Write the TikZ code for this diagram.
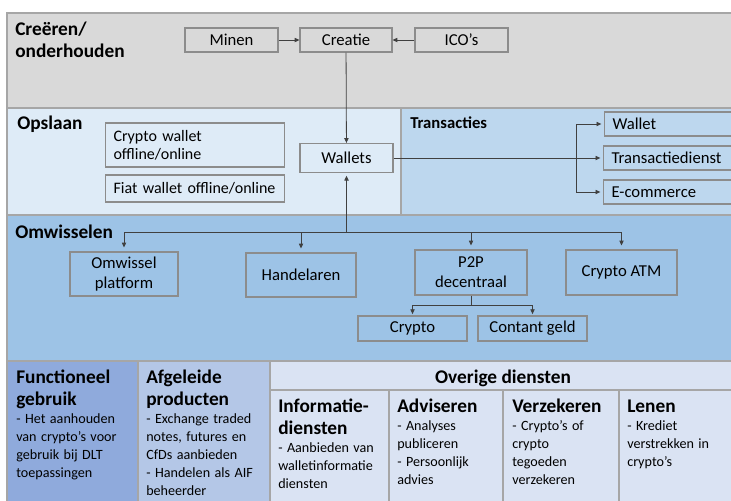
\documentclass[tikz,border=0pt]{standalone}
\usepackage{fontspec}
\setmainfont{Carlito}
\usepackage{tikz}
\usetikzlibrary{arrows.meta}

\definecolor{bandgray}{HTML}{D9D9D9}
\definecolor{opslaanblue}{HTML}{DEEBF7}
\definecolor{transblue}{HTML}{BDD7EE}
\definecolor{omwblue}{HTML}{9DC3E6}
\definecolor{funcblue}{HTML}{8FAADC}
\definecolor{afgblue}{HTML}{B4C7E7}
\definecolor{overblue}{HTML}{DAE3F3}
\definecolor{edgegray}{HTML}{A6A6A6}
\definecolor{boxgray}{HTML}{8C8C8C}
\definecolor{linegray}{HTML}{404040}

\newcommand{\hdfont}{\fontsize{14.5}{16.5}\selectfont\bfseries}
\newcommand{\ttlfont}{\fontsize{14.5}{17}\selectfont\bfseries}
\newcommand{\bdfont}{\fontsize{10.6}{13.5}\selectfont}

\tikzset{
    band/.style={draw=edgegray, line width=1.1pt},
    box/.style={draw=boxgray, line width=0.8pt, inner sep=0pt, align=center, font=\fontsize{12.5}{15}\selectfont},
    leftbox/.style={box, anchor=west, inner xsep=6pt, text width=#1, align=left},
    conn/.style={draw=linegray, line width=0.6pt},
    arr/.style={conn, -{Triangle[length=3.6pt,width=3.2pt]}},
    hd/.style={anchor=base west, inner sep=0pt, align=left, font=\hdfont},
    cell/.style={anchor=base west, inner sep=0pt, text width=#1, align=left},
}

\begin{document}
\begin{tikzpicture}[x=0.75pt,y=0.75pt,yscale=-1,xscale=1]
        \useasboundingbox (0,0) rectangle (731,500);
        \clip (0,0) rectangle (731,500);
        %Shape: Rectangle bands
        \draw[band, fill=bandgray] (7,13) rectangle (745,108);
        \draw[band, fill=opslaanblue] (7,108) rectangle (401,215);
        \draw[band, fill=transblue] (401,108) rectangle (745,215);
        \draw[band, fill=omwblue] (7,215) rectangle (745,361);
        \draw[band, fill=funcblue] (7,361) rectangle (138,510);
        \draw[band, fill=afgblue] (138,361) rectangle (270,510);
        \draw[band, fill=overblue] (270,361) rectangle (745,390);
        \foreach \xa/\xb in {270/389,389/503,503/619,619/745}
            \draw[band, fill=overblue] (\xa,390) rectangle (\xb,510);

        % Text Node band titles
        \node[hd] (tcreeren) at (15,57) {Creëren/\\onderhouden};
        \node[hd] (topslaan) at (17,129) {Opslaan};
        \node[hd, font=\fontsize{12.5}{15}\selectfont\bfseries] (ttrans) at (410,128) {Transacties};
        \node[hd] (tomw) at (15,238) {Omwisselen};

        %Shape: Rectangle creatie row
        \node[box, minimum width=93*0.75pt, minimum height=24*0.75pt] (minen) at (231.5,40) {Minen};
        \node[box, minimum width=92*0.75pt, minimum height=24*0.75pt] (creatie) at (346,40) {Creatie};
        \node[box, minimum width=93*0.75pt, minimum height=24*0.75pt] (icos) at (461.5,40) {ICO’s};

        %Shape: Rectangle opslaan
        \node[leftbox=122pt, minimum height=44*0.75pt, font=\fontsize{12}{13.5}\selectfont] (cwallet) at (105,145) {Crypto wallet\\offline/online};
        \node[leftbox=122pt, minimum height=27*0.75pt, font=\fontsize{12}{13.5}\selectfont] (fwallet) at (105,188.5) {Fiat wallet offline/online};
        \node[box, minimum width=93*0.75pt, minimum height=29*0.75pt] (wallets) at (346.5,158) {Wallets};

        %Shape: Rectangle transacties
        \node[leftbox=100pt, minimum height=24*0.75pt] (trwallet) at (604,124) {Wallet};
        \node[leftbox=100pt, minimum height=24*0.75pt] (trdienst) at (603,158) {Transactiedienst};
        \node[leftbox=100pt, minimum height=24*0.75pt] (ecommerce) at (603,192) {E-commerce};

        %Shape: Rectangle omwisselen
        \node[box, minimum width=108*0.75pt, minimum height=44*0.75pt] (omwissel) at (124,274) {Omwissel\\platform};
        \node[box, minimum width=110*0.75pt, minimum height=44*0.75pt] (handelaren) at (301,275) {Handelaren};
        \node[box, minimum width=112*0.75pt, minimum height=45*0.75pt] (p2p) at (471,272.5) {P2P\\decentraal};
        \node[box, minimum width=111*0.75pt, minimum height=45*0.75pt] (atm) at (621.5,272.5) {Crypto ATM};
        \node[box, minimum width=109*0.75pt, minimum height=25*0.75pt] (crypto) at (412.5,328.5) {Crypto};
        \node[box, minimum width=109*0.75pt, minimum height=25*0.75pt] (contant) at (532.5,328.5) {Contant geld};

        %Straight Lines
        \coordinate (trsplit) at (576,158);
        \coordinate (hub) at (346.5,232);
        \coordinate (p2psplit) at (471,305);
        \draw[arr] (minen) -- (creatie);
        \draw[arr] (icos) -- (creatie);
        \draw[arr] (creatie) -- (wallets);
        \draw[arr, shorten >=2pt] (wallets) -- (trdienst);
        \draw[arr, shorten >=2pt] (trsplit) |- (trwallet);
        \draw[arr, shorten >=2pt] (trsplit) |- (ecommerce);
        \draw[arr, shorten >=2pt] (hub) -- (wallets);
        \foreach \n in {omwissel,handelaren,p2p,atm}
            \draw[arr, shorten >=3pt] (hub) -| (\n);
        \draw[conn] (p2p) -- (p2psplit);
        \draw[arr, shorten >=1pt] (p2psplit) -| (crypto);
        \draw[arr, shorten >=1pt] (p2psplit) -| (contant);

        % Text Node bottom cells
        \node[cell=92pt] (func) at (16,383) {{\ttlfont Functioneel\\gebruik\par}{\bdfont - Het aanhouden\\van crypto’s voor\\gebruik bij DLT\\toepassingen\par}};
        \node[cell=92pt] (afgeleid) at (146,383) {{\ttlfont Afgeleide\\producten\par}{\bdfont - Exchange traded\\notes, futures en\\CfDs aanbieden\\- Handelen als AIF\\beheerder\par}};
        \node[anchor=base, inner sep=0pt, font=\fontsize{14.5}{17}\selectfont\bfseries] (overige) at (503,383) {Overige diensten};
        \node[cell=85pt] (info) at (278,412) {{\ttlfont Informatie-\\diensten\par}{\bdfont - Aanbieden van\\walletinformatie\\diensten\par}};
        \node[cell=82pt] (advies) at (397,412) {{\ttlfont Adviseren\par}{\bdfont - Analyses\\publiceren\\- Persoonlijk\\advies\par}};
        \node[cell=82pt] (verzek) at (512,412) {{\ttlfont Verzekeren\par}{\bdfont - Crypto’s of\\crypto\\tegoeden\\verzekeren\par}};
        \node[cell=82pt] (lenen) at (627,412) {{\ttlfont Lenen\par}{\bdfont - Krediet\\verstrekken in\\crypto’s\par}};
\end{tikzpicture}
\end{document}
